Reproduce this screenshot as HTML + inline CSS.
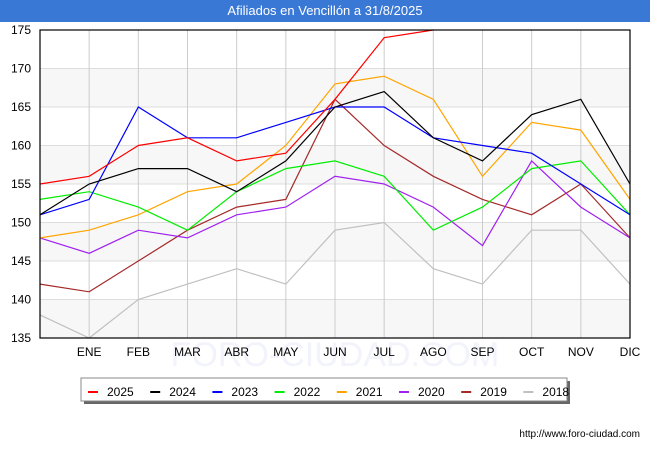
<!DOCTYPE html>
<html><head><meta charset="utf-8">
<style>
body{margin:0;width:650px;height:450px;background:#fff;font-family:"Liberation Sans","DejaVu Sans",sans-serif;overflow:hidden}
#title{position:absolute;left:0;top:0;width:650px;height:22px;background:#3a78d6;color:#fff;font-size:13px;line-height:22px;text-align:center}
svg{position:absolute;left:0;top:0}
</style></head><body>
<div id="title">Afiliados en Vencillón a 31/8/2025</div>
<svg id="chart" width="650" height="450"></svg>
<script>
const months=["","ENE","FEB","MAR","ABR","MAY","JUN","JUL","AGO","SEP","OCT","NOV","DIC"];
const yTicks=[135,140,145,150,155,160,165,170,175];
const seriesNames=["2025","2024","2023","2022","2021","2020","2019","2018"];
const seriesColors=["#ff0000","#000000","#0000ff","#00ee00","#ffa500","#a020f0","#a52a2a","#c0c0c0"];
const s2025=[155,156,160,161,158,159,166,174,175];
const s2024=[151,155,157,157,154,158,165,167,161,158,164,166,155];
const s2023=[151,153,165,161,161,163,165,165,161,160,159,155,151];
const s2022=[153,154,152,149,154,157,158,156,149,152,157,158,151];
const s2021=[148,149,151,154,155,160,168,169,166,156,163,162,153];
const s2020=[148,146,149,148,151,152,156,155,152,147,158,152,148];
const s2019=[142,141,145,149,152,153,166,160,156,153,151,155,148];
const s2018=[138,135,140,142,144,142,149,150,144,142,149,149,142];
const allSeries=[s2025,s2024,s2023,s2022,s2021,s2020,s2019,s2018];

const NS="http://www.w3.org/2000/svg";
const svg=document.getElementById('chart');
const L=40,R=630,T=30,B=338,yMin=135,yMax=175;
const x=i=>L+i*(R-L)/(months.length-1);
const y=v=>T+(yMax-v)*(B-T)/(yMax-yMin);
function mk(tag,attrs,parent){const e=document.createElementNS(NS,tag);for(const k in attrs)e.setAttribute(k,attrs[k]);(parent||svg).appendChild(e);return e;}

for(let i=0;i<yTicks.length-1;i++){
  if(i%2===0){
    const r=mk('rect',{x:L,y:y(yTicks[i+1]),width:R-L,height:y(yTicks[i])-y(yTicks[i+1]),fill:'#f7f7f7'});
    
    
  }
}
const wm=mk('text',{x:335,y:366,'text-anchor':'middle','font-size':34,fill:'#f2f3fb'});
wm.textContent='FORO-CIUDAD.COM';


yTicks.forEach(v=>{
  const g=mk('line',{x1:L,x2:R,y1:y(v),y2:y(v),stroke:'#dddddd','stroke-width':1});
  
  
  const t=mk('text',{x:31,y:y(v)+4,'text-anchor':'end','font-size':12,fill:'#000'});
  t.textContent=v;
  
  
});
months.forEach((m,i)=>{
  if(i===0)return;
  const g=mk('line',{x1:x(i),x2:x(i),y1:T,y2:B,stroke:'#cccccc','stroke-width':1});
  
  
  const t=mk('text',{x:x(i),y:356,'text-anchor':'middle','font-size':12,fill:'#000'});
  t.textContent=m;
  
  
});
for(let s=allSeries.length-1;s>=0;s--){
  const pts=allSeries[s].map((v,i)=>x(i)+','+y(v)).join(' ');
  const p=mk('polyline',{points:pts,fill:'none',stroke:seriesColors[s],'stroke-width':1.2});
  
  
}
const fr=mk('rect',{x:L,y:T,width:R-L,height:B-T,fill:'none',stroke:'#000','stroke-width':1.2});


const lg=mk('g',{});


mk('rect',{x:84,y:381,width:486,height:23,fill:'#666'},lg);
mk('rect',{x:81,y:378,width:486,height:23,fill:'#fff',stroke:'#888','stroke-width':1},lg);
seriesNames.forEach((n,i)=>{
  const ex=88+i*62.2;
  const e=mk('g',{},lg);
  
  
  mk('line',{x1:ex,x2:ex+10,y1:392,y2:392,stroke:seriesColors[i],'stroke-width':2},e);
  const t=mk('text',{x:ex+19,y:396,'font-size':12,fill:'#000'},e);
  t.textContent=n;
});
const u=mk('text',{x:640,y:437,'text-anchor':'end','font-size':10,fill:'#000'});
u.textContent='http://www.foro-ciudad.com';


</script>
</body></html>
